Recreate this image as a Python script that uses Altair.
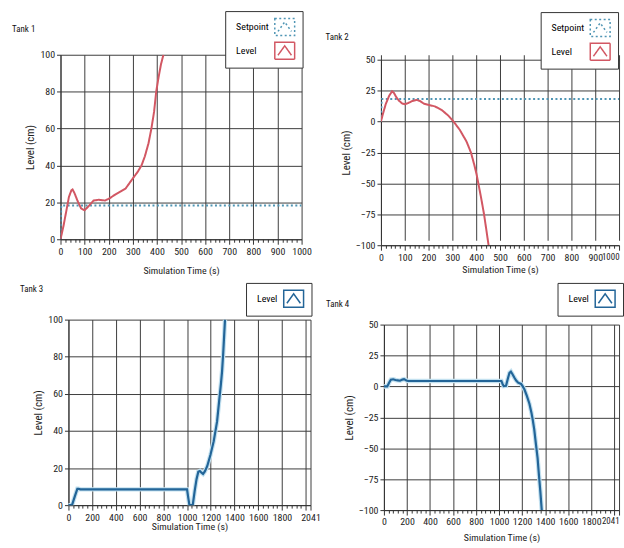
import altair as alt
import pandas as pd

FONT = "Liberation Sans Narrow, Roboto Condensed, DejaVu Sans Condensed, sans-serif"
RED = "#d25763"
TEAL = "#4f95b4"
BLUE = "#236598"
HALO = "#c3e1f0"
GRID = "#3d3d3d"

# ---------------- data ----------------
series_names = ["Setpoint", "Level"]

setpoint_time = [0, 3, 1000]
setpoint_level = [0, 18.3, 18.3]

t1_time = [0, 12, 25, 35, 45, 50, 58, 70, 85, 100, 116, 137, 158, 185, 205, 230,
           250, 270, 300, 320, 336, 350, 365, 377, 388, 397, 407, 417, 427]
t1_level = [0, 7, 16, 23, 26.5, 27, 25, 21, 16.8, 15.7, 17.9, 21, 21.4, 21, 22.3, 24.5,
            26, 27.5, 33, 36.5, 40, 45, 52, 60, 69, 80, 88, 95, 100]

t2_time = [0, 8, 20, 35, 47, 55, 65, 75, 90, 100, 115, 130, 150, 165, 180, 200, 227,
           254, 282, 303, 331, 359, 378, 392, 402, 409, 421, 433, 443, 452]
t2_level = [0, 6, 14, 21, 24.5, 23, 19.5, 17, 14.5, 14, 15, 16.5, 17.5, 16.5, 14.5, 13.5, 12.2,
            9.5, 5, 0.5, -6.7, -16, -25, -35, -43, -50, -62, -75, -88, -100]

t3_time = [0, 30, 55, 75, 85, 100, 1000, 1010, 1020, 1048, 1065, 1080, 1095, 1108, 1122,
           1135, 1150, 1170, 1197, 1225, 1253, 1272, 1285, 1295, 1305, 1320]
t3_level = [0, 0, 5, 8.8, 8.8, 8.5, 8.5, 4, 0, 0, 8, 14, 18, 18.4, 17.5,
            16.8, 18.2, 21, 27, 34.5, 45, 57, 65, 72, 82, 100]

t4_time = [0, 29, 45, 60, 80, 100, 120, 140, 160, 175, 195, 210, 1020, 1030, 1040, 1060,
           1075, 1090, 1102, 1115, 1133, 1148, 1165, 1191, 1205, 1220, 1240, 1263, 1280,
           1292, 1305, 1320, 1334, 1346, 1358, 1370]
t4_level = [0, 0, 3, 5.5, 5.8, 5.2, 4.9, 4.6, 5.5, 5.9, 4.8, 4.4, 4.4, 2, 0.3, 0.5,
            6, 11, 12, 10, 7, 4.8, 3, 2, 0, -2.5, -7.5, -14, -21,
            -27, -35, -47, -58, -72, -85, -100]

y_labels_pos = [0, 20, 40, 60, 80, 100]
y_labels_neg = [-100, -75, -50, -25, 0, 25, 50]
minor_1k = list(range(0, 1001, 20))
minor_2k = list(range(0, 2001, 40)) + [2041]

# ---------------- helpers ----------------
def frame(name, times, values):
    return pd.DataFrame({"t": times, "v": values, "series": name,
                         "i": list(range(len(times)))})


SYMBOL = "M-1,-0.85L1,-0.85L1,0.85L-1,0.85Z M-0.68,0.45L0,-0.5L0.68,0.45"


def legend(lx, ly, sym_off):
    return alt.Legend(
        title=None, orient="none", legendX=lx, legendY=ly,
        strokeColor="#333", fillColor="white", padding=5,
        labelFont=FONT, labelFontSize=10, labelColor="black",
        symbolType=SYMBOL, symbolSize=400, symbolStrokeWidth=1.5,
        symbolOffset=sym_off, labelOffset={"expr": str(-(sym_off + 16))},
        rowPadding=0, labelLimit=60,
    )


def x_axis(minor_values, major_test, label_test, title_pad, last_right):
    kw = {}
    if last_right is not None:
        test = f"datum.value === {last_right}"
        kw["labelAlign"] = {"condition": {"test": test, "value": "right"}, "value": "center"}
        kw["labelFontSize"] = {"condition": {"test": test, "value": 9}, "value": 10}
    else:
        kw["labelFontSize"] = 10
    return alt.Axis(
        values=minor_values, title="Simulation Time (s)", format="d",
        labelExpr=f"({label_test}) ? datum.label : ''",
        labelOverlap=False, labelFlush=False,
        labelFont=FONT, labelColor="#222", labelPadding=2,
        titleFont=FONT, titleFontSize=10, titleFontWeight="normal", titleColor="#222",
        titlePadding=title_pad,
        grid=True, gridColor=GRID, gridWidth=1,
        gridOpacity={"condition": {"test": major_test, "value": 1}, "value": 0},
        tickSize={"condition": {"test": major_test, "value": 5}, "value": 3},
        tickColor="#333", domainColor="#333", **kw,
    )


def y_axis(values, shift):
    kw = {}
    if shift:
        kw["offset"] = {"expr": str(-shift)}
    return alt.Axis(
        values=values, title="Level (cm)", format="d",
        labelOverlap=False, labelFlush=False,
        labelFont=FONT, labelFontSize=10, labelColor="#222", labelPadding=2,
        titleFont=FONT, titleFontSize=11, titleFontWeight="normal", titleColor="#222",
        titlePadding=4,
        grid=True, gridColor=GRID, gridWidth=1,
        tickSize=4, tickColor="#333", domainColor="#333", **kw,
    )


def title(text, dx, dy):
    return alt.TitleParams(text, anchor="start", frame="bounds", font=FONT,
                           fontSize=9, fontWeight="normal", color="#111",
                           dx=dx, dy=dy, offset=2)


major_1k = "datum.value % 100 === 0"
major_2k = "datum.value % 200 === 0 || datum.value === 2041"
label_2k = "(datum.value % 200 === 0 && datum.value !== 2000) || datum.value === 2041"


def scales(xdom, ydom, w, h, xshift, yshift):
    xs = dict(domain=xdom, nice=False)
    ys = dict(domain=ydom, nice=False)
    if xshift:
        xs["range"] = [xshift, w]
    if yshift:
        ys["range"] = [h, yshift]
    return alt.Scale(**xs), alt.Scale(**ys)


def red_panel(level_t, level_v, ydom, yvals, w, h, lx, ly, name, tdx, tdy, tpad, last_right, yshift=0):
    df = pd.concat([frame("Setpoint", setpoint_time, setpoint_level),
                    frame("Level", level_t, level_v)])
    lg = legend(lx, ly, 44)
    xs, ys = scales([0, 1000], ydom, w, h, 0, yshift)
    return alt.Chart(df).mark_line(strokeWidth=2, clip=True).encode(
        x=alt.X("t:Q", scale=xs, axis=x_axis(minor_1k, major_1k, major_1k, tpad, last_right)),
        y=alt.Y("v:Q", scale=ys, axis=y_axis(yvals, 0)),
        color=alt.Color("series:N", scale=alt.Scale(domain=series_names, range=[TEAL, RED]),
                        legend=lg),
        strokeDash=alt.StrokeDash("series:N",
                                  scale=alt.Scale(domain=series_names, range=[[2, 2.5], [1, 0]]),
                                  legend=lg),
        order="i:Q",
    ).properties(width=w, height=h, title=title(name, tdx, tdy))


def blue_panel(level_t, level_v, ydom, yvals, w, h, lx, ly, name, tdx, tdy, tpad, last_right, xshift=0):
    df = frame("Level", level_t, level_v)
    xs, ys = scales([0, 2041], ydom, w, h, xshift, 0)
    xenc = alt.X("t:Q", scale=xs, axis=x_axis(minor_2k, major_2k, label_2k, tpad, last_right))
    yenc = alt.Y("v:Q", scale=ys, axis=y_axis(yvals, xshift))
    base = alt.Chart(df)
    halo = base.mark_line(strokeWidth=4.5, color=HALO, clip=True).encode(x=xenc, y=yenc, order="i:Q")
    line = base.mark_line(strokeWidth=2.2, clip=True).encode(
        x=xenc, y=yenc, order="i:Q",
        color=alt.Color("series:N", scale=alt.Scale(domain=["Level"], range=[BLUE]),
                        legend=legend(lx, ly, 32)),
    )
    return alt.layer(halo, line).properties(width=w, height=h, title=title(name, tdx, tdy))


t1 = red_panel(t1_time, t1_level, [0, 100], y_labels_pos, 243, 186, 166, -44,
               "Tank 1", -13, 26, 10, None)
t2 = red_panel(t2_time, t2_level, [-100, 50], y_labels_neg, 240, 192, 161, -43,
               "Tank 2", -15, 33, 2, 1000, yshift=5)
t3 = blue_panel(t3_time, t3_level, [0, 100], y_labels_pos, 252, 187, 187, -37,
                "Tank 3", -13, 14, 0, None, xshift=8)
t4 = blue_panel(t4_time, t4_level, [-100, 50], y_labels_neg, 237, 187, 175, -42,
                "Tank 4", -17.5, 29, 6, 2041)

indep = dict(color="independent", strokeDash="independent")

chart = alt.concat(t1, t2, t3, t4, columns=2, align="none",
                   spacing={"row": 6, "column": 5}).resolve_scale(**indep).resolve_legend(**indep).properties(
    padding={"left": 12, "top": 8, "right": 0, "bottom": 0},
    background="white",
).configure_view(strokeOpacity=0, fill="white")

chart.save("out.html", embed_options={"renderer": "svg", "actions": False})
